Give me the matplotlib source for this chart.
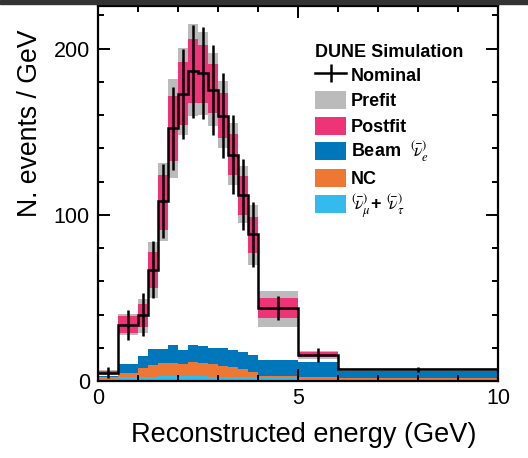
import numpy as np
import matplotlib
matplotlib.use("Agg")
import matplotlib.pyplot as plt
from matplotlib.lines import Line2D
from matplotlib.patches import Patch, Rectangle
from matplotlib.legend_handler import HandlerTuple, HandlerPatch
from matplotlib.ticker import MultipleLocator

plt.rcParams['font.family'] = ['Liberation Sans', 'DejaVu Sans']
plt.rcParams['mathtext.fontset'] = 'stix'

# ============================================================
# Datos (eventos / GeV)
# ============================================================
bin_edges = [0, 0.5, 1.0, 1.25, 1.5, 1.75, 2.0, 2.25, 2.5, 2.75, 3.0, 3.25, 3.5, 3.75, 4.0, 5.0, 6.0, 10.0]

nominal = [5.0, 33.7, 39.8, 67.0, 108.4, 152.0, 172.8, 186.5, 185.3, 175.3,
           159.6, 136.3, 112.2, 88.2, 44.0, 15.7, 7.0]
nominal_err = [3.4, 8.8, 13.0, 17.0, 22.5, 25.0, 27.0, 28.0, 27.5, 27.0,
               25.6, 23.5, 21.2, 19.5, 7.0, 4.2, 1.5]

prefit_lo = [3.6, 27.7, 28.7, 49.8, 84.5, 122.0, 148.2, 159.2, 160.0, 153.2,
             140.2, 118.1, 95.0, 69.9, 32.7, 13.5, 6.2]
prefit_hi = [6.6, 40.4, 49.4, 83.5, 131.1, 181.5, 200.4, 214.6, 210.0, 197.4,
             180.3, 155.2, 129.1, 106.0, 54.3, 18.2, 7.8]
postfit_lo = [4.0, 29.1, 32.7, 55.8, 91.0, 132.7, 154.2, 167.3, 167.3, 161.2,
              146.2, 124.1, 100.0, 76.9, 37.8, 14.3, 6.5]
postfit_hi = [6.2, 39.3, 46.4, 77.9, 124.1, 171.5, 192.0, 205.6, 202.4, 190.7,
              173.3, 148.8, 123.1, 99.0, 49.8, 17.3, 7.5]

# Fondos (apilados: numu+nutau abajo, NC, beam nue arriba)
numu_nutau = [1.5, 2.2, 2.6, 2.6, 2.8, 2.8, 2.8, 3.0, 2.8, 2.6,
              2.6, 2.4, 2.2, 2.2, 2.0, 1.2, 0.8]
nc_bkg = [0.7, 2.8, 5.4, 7.0, 7.8, 7.8, 7.2, 8.6, 7.8, 7.4,
          6.4, 6.2, 5.3, 3.3, 0.8, 1.1, 1.0]
beam_nue = [0.8, 5.2, 7.1, 9.7, 8.7, 11.1, 8.7, 10.3, 10.5, 9.9,
            10.9, 10.1, 9.7, 10.2, 9.8, 8.9, 4.4]

# Colores (esquema "vibrant")
C_GREY = '#BBBBBB'
C_PINK = '#EE3377'
C_BLUE = '#0077BB'
C_ORANGE = '#EE7733'
C_CYAN = '#33BBEE'

# ============================================================
# Graficar
# ============================================================
edges = np.array(bin_edges)
left = edges[:-1]
widths = np.diff(edges)
centers = left + widths / 2

fig = plt.figure(figsize=(5.28, 4.58), dpi=100)
ax = fig.add_axes([98 / 528, 77 / 458, 400 / 528, 375.5 / 458])

# fondos apilados
b1 = np.array(numu_nutau)
b2 = b1 + np.array(nc_bkg)
ax.bar(left, b1, width=widths, align='edge', color=C_CYAN, linewidth=0)
ax.bar(left, nc_bkg, width=widths, bottom=b1, align='edge', color=C_ORANGE, linewidth=0)
ax.bar(left, beam_nue, width=widths, bottom=b2, align='edge', color=C_BLUE, linewidth=0)

# bandas prefit / postfit
ax.bar(left, np.array(prefit_hi) - np.array(prefit_lo), width=widths, bottom=prefit_lo,
       align='edge', color=C_GREY, linewidth=0)
ax.bar(left, np.array(postfit_hi) - np.array(postfit_lo), width=widths, bottom=postfit_lo,
       align='edge', color=C_PINK, linewidth=0)

# nominal
ax.stairs(nominal, edges, color='black', lw=1.8, baseline=None)
eb = ax.errorbar(centers, nominal, yerr=nominal_err, fmt='none', ecolor='black', elinewidth=1.8)

ax.set_xlim(0, 10)
ax.set_ylim(0, 226)
ax.xaxis.set_major_locator(MultipleLocator(5))
ax.xaxis.set_minor_locator(MultipleLocator(1))
ax.yaxis.set_major_locator(MultipleLocator(100))
ax.yaxis.set_minor_locator(MultipleLocator(20))
ax.tick_params(which='both', direction='in', top=True, right=True, width=1.4, labelsize=15.5)
ax.tick_params(which='major', length=8.5)
ax.tick_params(which='minor', length=4.5)
ax.tick_params(axis='x', pad=5)
ax.tick_params(axis='y', pad=5.8)
for sp in ax.spines.values():
    sp.set_linewidth(1.6)

ax.set_xlabel('Reconstructed energy (GeV)', fontsize=19.5, labelpad=9.5)
ax.xaxis.label.set_x(0.515)
ax.set_ylabel('N. events / GeV', fontsize=19.2, loc='top')
ax.yaxis.set_label_coords(-0.1375, 0.936)


# cajas de la leyenda algo mas bajas que la fila
def short_box(legend, orig_handle, xdescent, ydescent, width, height, fontsize):
    pad = 0.096 * height
    return Rectangle((-xdescent, -ydescent + pad), width, height - 2 * pad)


box = HandlerPatch(patch_func=short_box)
nominal_handle = (Line2D([], [], color='black', lw=1.8), eb)
handles = [nominal_handle,
           Patch(color=C_GREY, linewidth=0),
           Patch(color=C_PINK, linewidth=0),
           Patch(color=C_BLUE, linewidth=0),
           Patch(color=C_ORANGE, linewidth=0),
           Patch(color=C_CYAN, linewidth=0)]
labels = ['Nominal', 'Prefit', 'Postfit',
          r'Beam  ${}^{(}\!\bar{\nu}^{)}_{e}$', 'NC',
          r'${}^{(}\!\bar{\nu}^{)}_{\mu}$+ ${}^{(}\!\bar{\nu}^{)}_{\tau}$']
leg = ax.legend(handles, labels, handler_map={tuple: HandlerTuple(ndivide=1), Patch: box},
                title='DUNE Simulation', title_fontproperties={'weight': 'bold', 'size': 13},
                prop={'weight': 'bold', 'size': 13}, alignment='left',
                loc='upper left', bbox_to_anchor=(0.5425, 0.897), frameon=False,
                borderpad=0, borderaxespad=0, handlelength=1.72, handleheight=1.522,
                handletextpad=0.28, labelspacing=0.16)

# borde oscuro superior de la captura
fig.patches.append(Rectangle((0, 1 - 3.5 / 458), 1, 3.5 / 458, transform=fig.transFigure,
                             color='#333333', zorder=10))

fig.savefig('out.png', dpi=100)
